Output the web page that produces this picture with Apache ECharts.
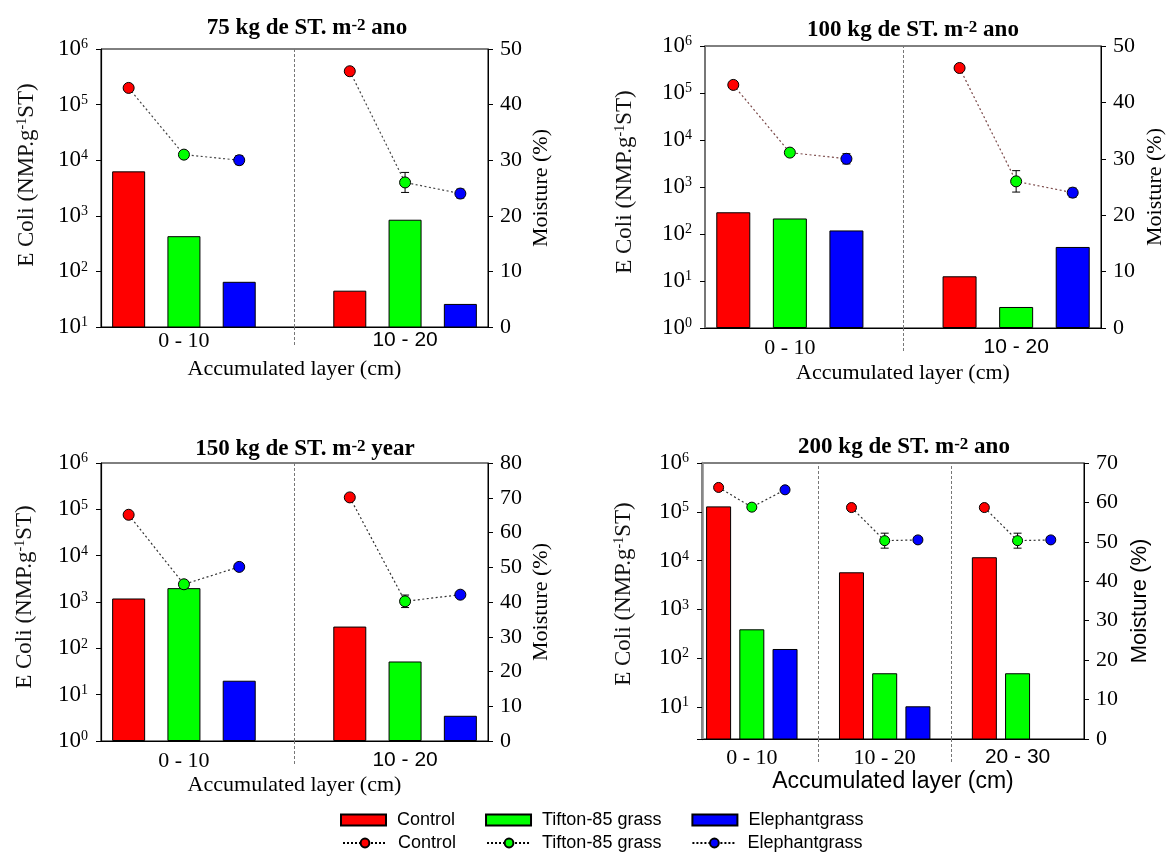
<!DOCTYPE html>
<html><head><meta charset="utf-8">
<script src="https://cdn.jsdelivr.net/npm/echarts@6/dist/echarts.min.js"></script>
<style>html,body{margin:0;padding:0;background:#fff}#c{width:1167px;height:856px}</style>
</head><body><div id="c"></div>
<script>
// ---------------- data ----------------
const treatments = ['Control', 'Tifton-85 grass', 'Elephantgrass'];
const layers2 = ['0 - 10', '10 - 20'];
const layers3 = ['0 - 10', '10 - 20', '20 - 30'];
const doses = ['75', '100', '150', '200'];
const periods = ['ano', 'ano', 'year', 'ano'];
// E. coli (NMP g-1 ST): rows = treatments, columns = layers
const ecoli75  = [[6300, 45], [430, 850], [65, 26]];
const ecoli100 = [[290, 12.6], [214, 2.8], [119, 53]];
const ecoli150 = [[1190, 295], [1990, 52], [20, 3.5]];
const ecoli200 = [[129000, 5750, 11700], [390, 49, 49], [154, 10.3, null]];
// Moisture (%): rows = treatments, columns = layers
const moist75  = [[43.0, 46.0], [31.0, 26.0], [30.0, 24.0]];
const moist100 = [[43.1, 46.1], [31.1, 26.0], [30.0, 24.0]];
const moist150 = [[65.1, 70.1], [45.1, 40.2], [50.1, 42.1]];
const moist200 = [[63.8, 58.7, 58.7], [58.8, 50.3, 50.3], [63.2, 50.5, 50.5]];
// Moisture error (+/-)
const err75  = [[0, 0], [0.3, 1.8], [0.8, 0.8]];
const err100 = [[0, 0], [0.3, 1.9], [0.9, 0.8]];
const err150 = [[0, 0], [0.3, 1.8], [0.3, 0.4]];
const err200 = [[0, 0, 0], [0.3, 1.9, 1.9], [0, 0, 0]];
// axis ranges
const ecoliMin = [10, 1, 1, 2.2];
const ecoliMax = [1e6, 1e6, 1e6, 1e6];
const moistMax = [50, 50, 80, 70];
const moistStep = 10;

// ---------------- styles / layout ----------------
const SERIF = '"Liberation Serif", "Times New Roman", serif';
const SANS = '"Liberation Sans", Arial, sans-serif';
const colors = ['#ff0000', '#00ff00', '#0000ff'];
const MOIST = ' (moisture)';

const panels = [
  {layers: layers2, ecoli: ecoli75, moist: moist75, err: err75},
  {layers: layers2, ecoli: ecoli100, moist: moist100, err: err100},
  {layers: layers2, ecoli: ecoli150, moist: moist150, err: err150},
  {layers: layers3, ecoli: ecoli200, moist: moist200, err: err200}
];
const styles = [
  {grid: {left: 101, top: 49, width: 387, height: 278}, xMax: 6.5, barW: 33, sym: 11, tx: 302, ty: 12,
   lac: '#000', law: 1.2, lineColor: '#444', catFonts: ['ser', 'san'], catMargin: 3, xNameGap: 31,
   xNameFont: SERIF, xNameSize: 22, lg: 63, lpad: 26, rg: 42, rFont: SERIF, divExt: 18},
  {grid: {left: 705, top: 46, width: 396, height: 282}, xMax: 6.5, barW: 34, sym: 11, tx: 908, ty: 14,
   lac: '#777', law: 2, lineColor: '#7a4848', catFonts: ['ser', 'san'], catMargin: 9, xNameGap: 34,
   xNameFont: SERIF, xNameSize: 22, lg: 69, lpad: 10, rg: 43, rFont: SERIF, divExt: 25},
  {grid: {left: 101, top: 463, width: 387, height: 278}, xMax: 6.5, barW: 33, sym: 11, tx: 300, ty: 433,
   lac: '#000', law: 1.2, lineColor: '#333', catFonts: ['ser', 'san'], catMargin: 9, xNameGap: 33,
   xNameFont: SERIF, xNameSize: 22, lg: 65, lpad: 10, rg: 42, rFont: SERIF, divExt: 24},
  {grid: {left: 702, top: 463, width: 382, height: 276}, xMax: 11, barW: 25, sym: 10, tx: 899, ty: 431,
   lac: '#888', law: 2.5, lineColor: '#333', catFonts: ['ser', 'ser', 'san'], catMargin: 8, xNameGap: 29,
   xNameFont: SANS, xNameSize: 23, lg: 67, lpad: 14, rg: 45, rFont: SANS, divExt: 24}
];

const option = {
  animation: false,
  backgroundColor: '#fff',
  textStyle: {fontFamily: SERIF},
  title: [], grid: [], xAxis: [], yAxis: [], series: [],
  legend: [
    {data: treatments, left: 335, top: 806, orient: 'horizontal', icon: 'rect',
     itemWidth: 45, itemHeight: 11, itemGap: 30, selectedMode: false,
     textStyle: {fontFamily: SANS, fontSize: 18, color: '#000', padding: [0, 0, 0, 6]}},
    {data: treatments.map(t => t + MOIST), formatter: n => n.replace(MOIST, ''),
     left: 337, top: 829, orient: 'horizontal', itemWidth: 44, itemHeight: 11, itemGap: 30, selectedMode: false,
     textStyle: {fontFamily: SANS, fontSize: 18, color: '#000', padding: [0, 0, 0, 6]}}
  ]
};

function errRender(params, api) {
  const x = api.value(0), y = api.value(1), e = api.value(2);
  const t = api.coord([x, y + e]), b = api.coord([x, y - e]);
  const hw = 4, st = {stroke: '#000', lineWidth: 1};
  return {type: 'group', children: [
    {type: 'line', shape: {x1: t[0], y1: t[1], x2: b[0], y2: b[1]}, style: st},
    {type: 'line', shape: {x1: t[0] - hw, y1: t[1], x2: t[0] + hw, y2: t[1]}, style: st},
    {type: 'line', shape: {x1: b[0] - hw, y1: b[1], x2: b[0] + hw, y2: b[1]}, style: st}
  ]};
}

panels.forEach((p, k) => {
  const s = styles[k];
  const step = treatments.length + 1;
  const nL = p.layers.length;
  const labelPos = p.layers.map((_, j) => j * step + 1);
  const dividers = p.layers.slice(1).map((_, j) => (j + 1) * step - 1);

  option.grid.push(Object.assign({show: true, borderColor: '#000', borderWidth: 1,
    backgroundColor: 'transparent', containLabel: false, outerBoundsMode: 'none'}, s.grid));

  option.title.push({
    text: doses[k] + ' kg de ST. m{s|-2} ' + periods[k],
    left: s.tx, top: s.ty, textAlign: 'center',
    textStyle: {fontFamily: SERIF, fontWeight: 'bold', fontSize: 23, color: '#000',
      rich: {s: {fontFamily: SERIF, fontWeight: 'bold', fontSize: 17, verticalAlign: 'top', color: '#000'}}}
  });

  option.xAxis.push({
    type: 'value', gridIndex: k, min: -0.5, max: s.xMax,
    axisLine: {show: true, onZero: false, lineStyle: {color: '#000', width: 1}},
    axisTick: {show: true, customValues: dividers, length: s.divExt, inside: false,
      lineStyle: {color: '#777', type: [3, 2], width: 1}},
    axisLabel: {show: true, customValues: labelPos, margin: s.catMargin,
      formatter: v => {
        const j = Math.round((v - 1) / step);
        return '{' + s.catFonts[j] + '|' + p.layers[j] + '}';
      },
      rich: {ser: {fontFamily: SERIF, fontSize: 22, color: '#000'},
             san: {fontFamily: SANS, fontSize: 21, color: '#000'}}},
    splitLine: {show: false},
    name: 'Accumulated layer (cm)', nameLocation: 'middle', nameGap: s.xNameGap,
    nameTextStyle: {fontFamily: s.xNameFont, fontSize: s.xNameSize, color: '#000'}
  });

  option.yAxis.push({
    type: 'log', logBase: 10, gridIndex: k, min: ecoliMin[k], max: ecoliMax[k], position: 'left',
    axisLine: {show: true, onZero: false, lineStyle: {color: s.lac, width: s.law}},
    axisTick: {show: true, inside: false, length: 5, lineStyle: {color: '#000', width: 1}},
    minorTick: {show: false}, splitLine: {show: false},
    axisLabel: {margin: 13,
      formatter: v => {
        const e = Math.log10(v);
        if (Math.abs(e - Math.round(e)) > 1e-6) return '';
        return '{b|10}{s|' + Math.round(e) + '}';
      },
      rich: {b: {fontFamily: SERIF, fontSize: 23, color: '#000'},
             s: {fontFamily: SERIF, fontSize: 14, color: '#000', verticalAlign: 'top'}}},
    name: 'E Coli (NMP.g{s|-1}ST)', nameLocation: 'middle', nameRotate: 90, nameGap: s.lg,
    nameTextStyle: {fontFamily: SERIF, fontSize: 23, color: '#111', padding: [0, 0, 0, s.lpad],
      rich: {s: {fontFamily: SERIF, fontSize: 14, color: '#111', verticalAlign: 'top'}}}
  });

  option.yAxis.push({
    type: 'value', gridIndex: k, min: 0, max: moistMax[k], interval: moistStep, position: 'right',
    axisLine: {show: true, onZero: false, lineStyle: {color: '#000', width: 1}},
    axisTick: {show: true, inside: false, length: 5, lineStyle: {color: '#000', width: 1}},
    splitLine: {show: false},
    axisLabel: {margin: 12, fontFamily: SERIF, fontSize: 22, color: '#000'},
    name: 'Moisture (%)', nameLocation: 'middle', nameRotate: 90, nameGap: s.rg,
    nameTextStyle: {fontFamily: s.rFont, fontSize: 22, color: '#000'}
  });

  const yLog = 2 * k, yM = 2 * k + 1;

  // bars
  treatments.forEach((t, i) => {
    option.series.push({
      type: 'bar', name: t, xAxisIndex: k, yAxisIndex: yLog, barWidth: s.barW, barGap: '-100%',
      clip: true, z: 2, silent: true,
      itemStyle: {color: colors[i], borderColor: '#000', borderWidth: 1},
      data: p.layers.map((_, j) => [j * step + i, p.ecoli[i][j]]).filter(d => d[1] != null)
    });
  });

  // connector dotted line + dividers
  const conn = [];
  p.layers.forEach((_, j) => {
    treatments.forEach((_, i) => conn.push([j * step + i, p.moist[i][j]]));
    if (j < nL - 1) conn.push([j * step + treatments.length, null]);
  });
  option.series.push({
    type: 'line', xAxisIndex: k, yAxisIndex: yM, symbol: 'none', connectNulls: false, silent: true, z: 3,
    lineStyle: {color: s.lineColor, width: 1.2, type: [2, 2.5]},
    data: conn,
    markLine: {symbol: 'none', silent: true, label: {show: false},
      lineStyle: {color: '#777', type: [3, 2], width: 1},
      data: dividers.map(d => ({xAxis: d}))}
  });

  // error bars
  const errData = [];
  treatments.forEach((_, i) => p.layers.forEach((_, j) => {
    if (p.err[i][j] > 0) errData.push([j * step + i, p.moist[i][j], p.err[i][j]]);
  }));
  option.series.push({
    type: 'custom', xAxisIndex: k, yAxisIndex: yM, renderItem: errRender, silent: true, z: 4,
    encode: {x: 0, y: 1}, data: errData
  });

  // moisture points
  treatments.forEach((t, i) => {
    const d = [];
    p.layers.forEach((_, j) => {
      d.push([j * step + i, p.moist[i][j]]);
      if (j < nL - 1) d.push([j * step + i + 2, null]);
    });
    option.series.push({
      type: 'line', name: t + MOIST, xAxisIndex: k, yAxisIndex: yM, symbol: 'circle', symbolSize: s.sym,
      showSymbol: true, showAllSymbol: true, connectNulls: false, silent: true, z: 5,
      lineStyle: {color: '#000', width: 1, type: [2, 2]},
      itemStyle: {color: colors[i], borderColor: '#000', borderWidth: 1},
      data: d
    });
  });
});

const chart = echarts.init(document.getElementById('c'), null, {renderer: 'canvas'});
chart.setOption(option);
</script>
</body></html>
